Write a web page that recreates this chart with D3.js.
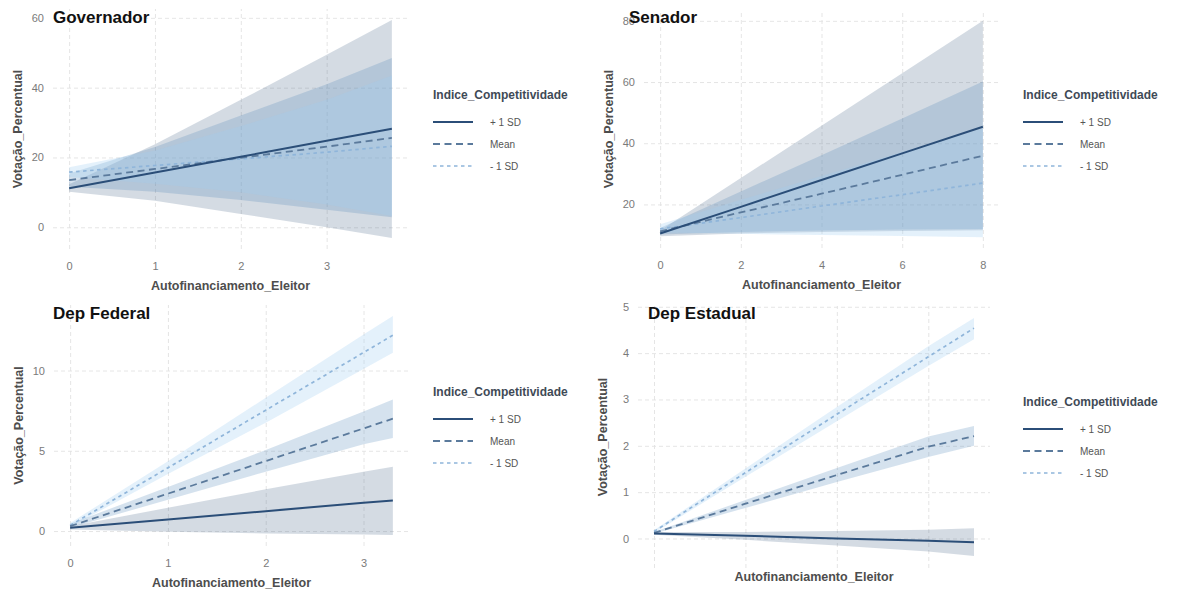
<!DOCTYPE html>
<html>
<head>
<meta charset="utf-8">
<script src="https://cdn.jsdelivr.net/npm/d3@7"></script>
<style>
  body { margin: 0; background: #fff; }
  svg text { font-family: "Liberation Sans", Arial, sans-serif; }
</style>
</head>
<body>
<div id="chart"></div>
<script>
// niveis do moderador
var levels = ['+ 1 SD', 'Mean', '- 1 SD'];
var legendTitle = 'Indice_Competitividade';
var xTitle = 'Autofinanciamento_Eleitor';
var yTitle = 'Votação_Percentual';

// Governador
var govX = [0, 1, 2, 3, 3.76];
var govPlus = [11.2, 15.7, 20.2, 24.8, 28.2];
var govMean = [13.5, 16.7, 19.9, 23.1, 25.6];
var govMinus = [15.8, 17.7, 19.6, 21.5, 23.2];
var govPlusLo = [10.2, 7.6, 3.8, 0, -3.1];
var govPlusHi = [12.3, 23.8, 36.5, 49.4, 59.4];
var govMeanLo = [11.6, 10.2, 7.8, 5.0, 2.9];
var govMeanHi = [15.4, 23.0, 32.0, 41.0, 48.5];
var govMinusLo = [14.4, 12.5, 10.0, 6.5, 3.2];
var govMinusHi = [17.2, 22.0, 29.0, 36.5, 43.5];
var govXTicks = [0, 1, 2, 3];
var govYTicks = [0, 20, 40, 60];

// Senador
var senX = [0, 2, 4, 6, 8];
var senPlus = [10.5, 19.2, 28.0, 36.7, 45.4];
var senMean = [11.2, 17.4, 23.5, 29.7, 35.9];
var senMinus = [12.0, 15.7, 19.5, 23.2, 27.0];
var senPlusLo = [9.6, 10.5, 11.0, 11.3, 11.6];
var senPlusHi = [11.5, 28.6, 45.7, 62.9, 80.0];
var senMeanLo = [10.2, 11.0, 11.5, 11.8, 12.0];
var senMeanHi = [12.3, 24.2, 36.1, 48.1, 60.2];
var senMinusLo = [10.8, 10.4, 10.0, 9.7, 9.3];
var senMinusHi = [13.5, 21.5, 29.3, 37.1, 44.9];
var senXTicks = [0, 2, 4, 6, 8];
var senYTicks = [20, 40, 60, 80];

// Dep Federal
var fedX = [0, 1, 2, 3, 3.3];
var fedPlus = [0.2, 0.72, 1.24, 1.76, 1.9];
var fedMean = [0.3, 2.33, 4.36, 6.39, 7.0];
var fedMinus = [0.35, 3.94, 7.53, 11.12, 12.2];
var fedPlusLo = [0.1, -0.05, -0.15, -0.22, -0.25];
var fedPlusHi = [0.3, 1.45, 2.6, 3.7, 4.0];
var fedMeanLo = [0.2, 1.95, 3.7, 5.4, 5.8];
var fedMeanHi = [0.45, 2.75, 5.05, 7.45, 8.2];
var fedMinusLo = [0.25, 3.55, 6.75, 10.1, 11.1];
var fedMinusHi = [0.5, 4.35, 8.3, 12.25, 13.4];
var fedXTicks = [0, 1, 2, 3];
var fedYTicks = [0, 5, 10];

// Dep Estadual
var estX = [0, 1, 2, 3, 3.5];
var estPlus = [0.11, 0.06, 0.0, -0.05, -0.08];
var estMean = [0.12, 0.75, 1.37, 1.98, 2.21];
var estMinus = [0.15, 1.42, 2.68, 3.92, 4.54];
var estPlusLo = [0.08, -0.03, -0.15, -0.28, -0.38];
var estPlusHi = [0.14, 0.14, 0.16, 0.19, 0.22];
var estMeanLo = [0.1, 0.66, 1.22, 1.76, 2.0];
var estMeanHi = [0.14, 0.83, 1.52, 2.2, 2.43];
var estMinusLo = [0.12, 1.33, 2.53, 3.72, 4.3];
var estMinusHi = [0.18, 1.51, 2.84, 4.15, 4.76];
var estXTicks = [0, 1, 2, 3];
var estYTicks = [0, 1, 2, 3, 4, 5];

function series(fits, los, his) {
    return levels.map(function(l, i) {
        return { level: l, fit: fits[i], lo: los[i], hi: his[i] };
    });
}

var panels = [
    { title: 'Governador', x: govX, xTicks: govXTicks, yTicks: govYTicks, xLabels: true,
      series: series([govPlus, govMean, govMinus], [govPlusLo, govMeanLo, govMinusLo], [govPlusHi, govMeanHi, govMinusHi]),
      box: { left: 53, right: 408, top: 9, bottom: 249 }, titlePos: [53, 23], legendPos: [433, 95] },
    { title: 'Senador', x: senX, xTicks: senXTicks, yTicks: senYTicks, xLabels: true,
      series: series([senPlus, senMean, senMinus], [senPlusLo, senMeanLo, senMinusLo], [senPlusHi, senMeanHi, senMinusHi]),
      box: { left: 644, right: 999, top: 10, bottom: 248 }, titlePos: [629, 23], legendPos: [1023, 95] },
    { title: 'Dep Federal', x: fedX, xTicks: fedXTicks, yTicks: fedYTicks, xLabels: true,
      series: series([fedPlus, fedMean, fedMinus], [fedPlusLo, fedMeanLo, fedMinusLo], [fedPlusHi, fedMeanHi, fedMinusHi]),
      box: { left: 54, right: 409, top: 305, bottom: 546 }, titlePos: [53, 319], legendPos: [433, 392] },
    { title: 'Dep Estadual', x: estX, xTicks: estXTicks, yTicks: estYTicks, xLabels: false,
      series: series([estPlus, estMean, estMinus], [estPlusLo, estMeanLo, estMinusLo], [estPlusHi, estMeanHi, estMinusHi]),
      box: { left: 638, right: 990, top: 306, bottom: 568 }, titlePos: [648, 319], legendPos: [1023, 402] }
];

// estilo de cada nivel
var styles = {
    '+ 1 SD': { line: '#2b4e78', fill: '#3a5a80', op: 0.22, dash: null, w: 2 },
    'Mean':   { line: '#5b7a9c', fill: '#4f84ba', op: 0.24, dash: '7,4.5', w: 1.8 },
    '- 1 SD': { line: '#8fb5da', fill: '#9fcdf2', op: 0.28, dash: '3.5,3.5', w: 1.7 }
};

var svg = d3.select('#chart')
            .append('svg')
            .attr('width', 1180)
            .attr('height', 592);

function expand(ext) {
    var d = (ext[1] - ext[0]) * 0.05;
    return [ext[0] - d, ext[1] + d];
}

panels.forEach(function(p) {
    var b = p.box;
    var g = svg.append('g');
    var allY = d3.merge(p.series.map(function(s) { return s.lo.concat(s.hi, s.fit); }));
    var x = d3.scaleLinear().domain(expand(d3.extent(p.x))).range([b.left, b.right]);
    var y = d3.scaleLinear().domain(expand(d3.extent(allY))).range([b.bottom, b.top]);

    // grade + eixo x
    var gx = g.append('g')
        .attr('transform', 'translate(0,' + b.bottom + ')')
        .call(d3.axisBottom(x)
            .tickValues(p.xTicks)
            .tickSize(-(b.bottom - b.top))
            .tickPadding(13)
            .tickFormat(p.xLabels ? d3.format('d') : function() { return ''; }));
    // grade + eixo y
    var gy = g.append('g')
        .attr('transform', 'translate(' + b.left + ',0)')
        .call(d3.axisLeft(y)
            .tickValues(p.yTicks)
            .tickSize(-(b.right - b.left))
            .tickPadding(9)
            .tickFormat(d3.format('d')));
    [gx, gy].forEach(function(a) {
        a.select('.domain').remove();
        a.selectAll('.tick line')
            .attr('stroke', '#e2e2e2')
            .attr('stroke-width', 0.9)
            .attr('stroke-dasharray', '4,3');
        a.selectAll('.tick text')
            .attr('fill', '#7a7a7a')
            .style('font-size', '11px');
    });

    // faixas de confianca
    var area = d3.area()
        .x(function(d) { return x(d[0]); })
        .y0(function(d) { return y(d[1]); })
        .y1(function(d) { return y(d[2]); });
    p.series.forEach(function(s) {
        var st = styles[s.level];
        g.append('path')
            .datum(p.x.map(function(v, i) { return [v, s.lo[i], s.hi[i]]; }))
            .attr('d', area)
            .attr('fill', st.fill)
            .attr('fill-opacity', st.op);
    });

    // linhas
    var line = d3.line()
        .x(function(d) { return x(d[0]); })
        .y(function(d) { return y(d[1]); });
    p.series.slice().reverse().forEach(function(s) {
        var st = styles[s.level];
        g.append('path')
            .datum(p.x.map(function(v, i) { return [v, s.fit[i]]; }))
            .attr('d', line)
            .attr('fill', 'none')
            .attr('stroke', st.line)
            .attr('stroke-width', st.w)
            .attr('stroke-dasharray', st.dash);
    });

    // titulos
    g.append('text')
        .attr('x', p.titlePos[0])
        .attr('y', p.titlePos[1])
        .style('font-size', '17px')
        .style('font-weight', 'bold')
        .attr('fill', '#111')
        .text(p.title);
    g.append('text')
        .attr('x', (b.left + b.right) / 2)
        .attr('y', p.xLabels ? b.bottom + 41 : 581)
        .attr('text-anchor', 'middle')
        .style('font-size', '12.5px')
        .style('font-weight', 'bold')
        .attr('fill', '#4d4d4d')
        .text(xTitle);
    g.append('text')
        .attr('transform', 'translate(' + (b.left - 31) + ',' + ((b.top + b.bottom) / 2) + ') rotate(-90)')
        .attr('text-anchor', 'middle')
        .style('font-size', '12.5px')
        .style('font-weight', 'bold')
        .attr('fill', '#4d4d4d')
        .text(yTitle);

    // legenda
    var lg = g.append('g').attr('transform', 'translate(' + p.legendPos[0] + ',' + p.legendPos[1] + ')');
    lg.append('text')
        .attr('y', 4)
        .style('font-size', '12px')
        .style('font-weight', 'bold')
        .attr('fill', '#3f4a56')
        .text(legendTitle);
    var offs = [27, 49, 71];
    levels.forEach(function(l, i) {
        var st = styles[l];
        lg.append('line')
            .attr('x1', 0).attr('x2', 40)
            .attr('y1', offs[i]).attr('y2', offs[i])
            .attr('stroke', st.line)
            .attr('stroke-width', st.w)
            .attr('stroke-dasharray', st.dash);
        lg.append('text')
            .attr('x', 57)
            .attr('y', offs[i])
            .attr('dy', '0.35em')
            .style('font-size', '10px')
            .attr('fill', '#555')
            .text(l);
    });
});
</script>
</body>
</html>
